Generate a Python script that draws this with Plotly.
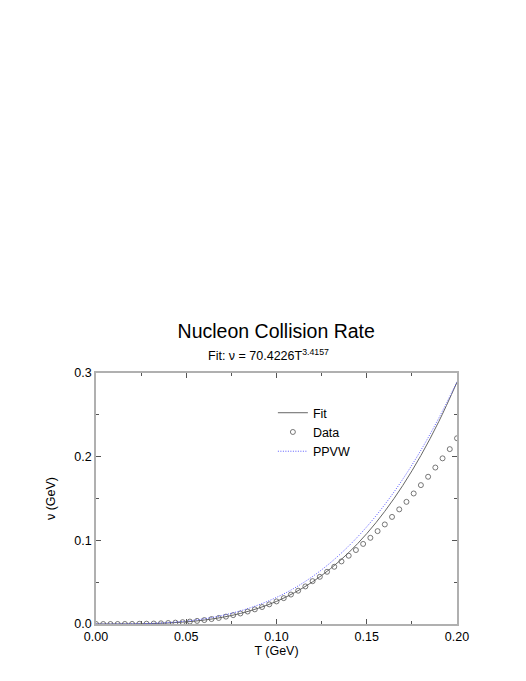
import plotly.graph_objects as go

# Fit curve (T in GeV, nu in GeV)
fit_T = [0.00, 0.01, 0.02, 0.03, 0.04, 0.05, 0.06, 0.07, 0.08, 0.09, 0.10,
         0.11, 0.12, 0.13, 0.14, 0.15, 0.16, 0.17, 0.18, 0.19, 0.20]
fit_nu = [0.0, 0.00001, 0.00011, 0.00044, 0.00118, 0.00253, 0.00472, 0.00799,
          0.0126, 0.0189, 0.0270, 0.0375, 0.0504, 0.0663, 0.0853, 0.1080,
          0.1347, 0.1657, 0.2014, 0.2423, 0.2890]

# PPVW curve
ppvw_T = fit_T
ppvw_nu = [0.0, 0.00003, 0.0002, 0.0007, 0.0017, 0.0035, 0.0063, 0.0103,
           0.0157, 0.0228, 0.0318, 0.0430, 0.0568, 0.0735, 0.0932, 0.1162,
           0.1428, 0.1732, 0.2077, 0.2465, 0.2895]

# Data points (step 0.004 GeV)
data_T = [0.000, 0.004, 0.008, 0.012, 0.016, 0.020, 0.024, 0.028, 0.032, 0.036,
          0.040, 0.044, 0.048, 0.052, 0.056, 0.060, 0.064, 0.068, 0.072, 0.076,
          0.080, 0.084, 0.088, 0.092, 0.096, 0.100, 0.104, 0.108, 0.112, 0.116,
          0.120, 0.124, 0.128, 0.132, 0.136, 0.140, 0.144, 0.148, 0.152, 0.156,
          0.160, 0.164, 0.168, 0.172, 0.176, 0.180, 0.184, 0.188, 0.192, 0.196,
          0.200]
data_nu = [0.0, 0.0, 0.0, 0.00002, 0.00005, 0.00011, 0.00021, 0.00035, 0.00055, 0.00082,
           0.00118, 0.00163, 0.0022, 0.0029, 0.0037, 0.0047, 0.0059, 0.0072, 0.0088, 0.0106,
           0.0126, 0.0149, 0.0175, 0.0203, 0.0235, 0.0270, 0.0309, 0.0352, 0.0398, 0.0449,
           0.0512, 0.0564, 0.0624, 0.0684, 0.0748, 0.0816, 0.0884, 0.0957, 0.103, 0.111,
           0.119, 0.128, 0.137, 0.146, 0.156, 0.166, 0.176, 0.187, 0.198, 0.209,
           0.222]

font = "Liberation Sans, Arial, sans-serif"

fig = go.Figure()
fig.add_trace(go.Scatter(x=fit_T, y=fit_nu, mode="lines", name="Fit",
                         line=dict(color="#666666", width=1, shape="spline")))
fig.add_trace(go.Scatter(x=data_T, y=data_nu, mode="markers", name="Data",
                         marker=dict(symbol="circle-open", size=5,
                                     color="#555555", line=dict(width=0.8))))
fig.add_trace(go.Scatter(x=ppvw_T, y=ppvw_nu, mode="lines", name="PPVW",
                         line=dict(color="#5a5aff", width=1, dash="1px,1.5px", shape="spline")))

axis_common = dict(
    showgrid=False, zeroline=False, mirror="allticks",
    showline=True, linecolor="#b0b0b0", linewidth=1.5,
    ticks="inside", ticklen=5, tickcolor="#555555",
    tickfont=dict(family=font, size=12.5, color="black"),
)

fig.update_layout(
    width=526, height=681,
    paper_bgcolor="white", plot_bgcolor="white",
    margin=dict(l=88, r=77, t=365, b=65),
    title=dict(text="Nucleon Collision Rate", x=0.51, xanchor="center",
               y=1 - 323 / 681, yanchor="middle",
               font=dict(family=font, size=19.5, color="black")),
    annotations=[dict(text="Fit: ν = 70.4226T<sup>3.4157</sup>", xref="paper", yref="paper",
                      x=0.477, y=1.07, xanchor="center", yanchor="middle", showarrow=False,
                      font=dict(family=font, size=12.5, color="black"))],
    xaxis=dict(axis_common, range=[0, 0.2], dtick=0.05, tickformat=".2f",
               minor=dict(dtick=0.025, ticks="inside", ticklen=3, tickcolor="#555555"),
               title=dict(text="T (GeV)", font=dict(family=font, size=12.5, color="black"),
                          standoff=3)),
    yaxis=dict(axis_common, range=[0, 0.3], dtick=0.1, tickformat=".1f",
               minor=dict(dtick=0.05, ticks="inside", ticklen=3, tickcolor="#555555"),
               title=dict(text="ν (GeV)", font=dict(family=font, size=12.5, color="black"),
                          standoff=16)),
    legend=dict(x=0.49, y=0.9, xanchor="left", yanchor="top",
                bgcolor="rgba(0,0,0,0)", tracegroupgap=0,
                font=dict(family=font, size=12.5, color="black")),
    showlegend=True,
)

fig.write_html("out.html")
